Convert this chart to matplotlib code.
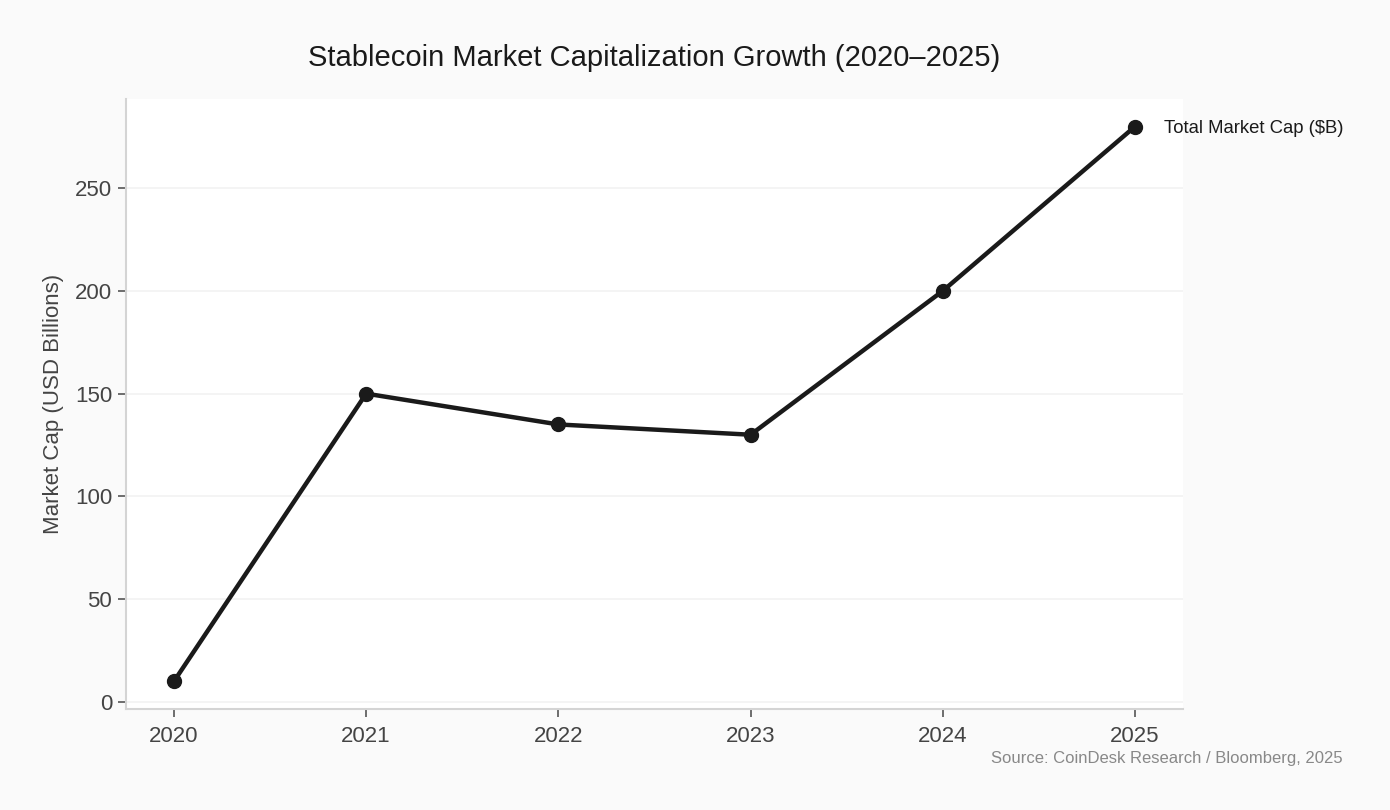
import matplotlib
matplotlib.use("Agg")
import matplotlib.pyplot as plt

# --- datos ---
anios = [2020, 2021, 2022, 2023, 2024, 2025]
market_cap = [10, 150, 135, 130, 200, 280]
serie_label = "Total Market Cap ($B)"

plt.rcParams["font.family"] = ["Liberation Sans", "DejaVu Sans"]

fig = plt.figure(figsize=(13.9, 8.1), dpi=100, facecolor="#fafafa")
ax = fig.add_axes([0.0906, 0.1247, 0.7605, 0.7533])
ax.set_facecolor("white")

ax.plot(anios, market_cap, color="#1a1a1a", linewidth=3.2, marker="o",
        markersize=10, zorder=3)

# etiqueta al final de la linea
ax.annotate(serie_label, xy=(anios[-1], market_cap[-1]), xytext=(21, -1.5),
            textcoords="offset points", ha="left", va="center",
            fontsize=13.3, color="#1a1a1a", annotation_clip=False)

ax.set_xticks(anios)
ax.set_yticks([0, 50, 100, 150, 200, 250])
ax.grid(axis="y", color="#f2f2f2", linewidth=1.2)
ax.set_axisbelow(True)

for s in ["top", "right"]:
    ax.spines[s].set_visible(False)
for s in ["left", "bottom"]:
    ax.spines[s].set_color("#d4d4d4")
    ax.spines[s].set_linewidth(1.5)

ax.tick_params(axis="both", labelsize=16, labelcolor="#444444",
               color="#555555", length=6, width=1.2)
ax.tick_params(axis="x", pad=6)
ax.tick_params(axis="y", pad=4)
ax.set_ylabel("Market Cap (USD Billions)", fontsize=16, color="#444444", labelpad=8)

fig.text(0.4709, 0.928, "Stablecoin Market Capitalization Growth (2020\u20132025)",
         ha="center", va="center", fontsize=21, color="#1a1a1a")
fig.text(0.966, 0.064, "Source: CoinDesk Research / Bloomberg, 2025",
         ha="right", va="center", fontsize=12, color="#888888")

fig.savefig("out.png", dpi=100, facecolor=fig.get_facecolor())
